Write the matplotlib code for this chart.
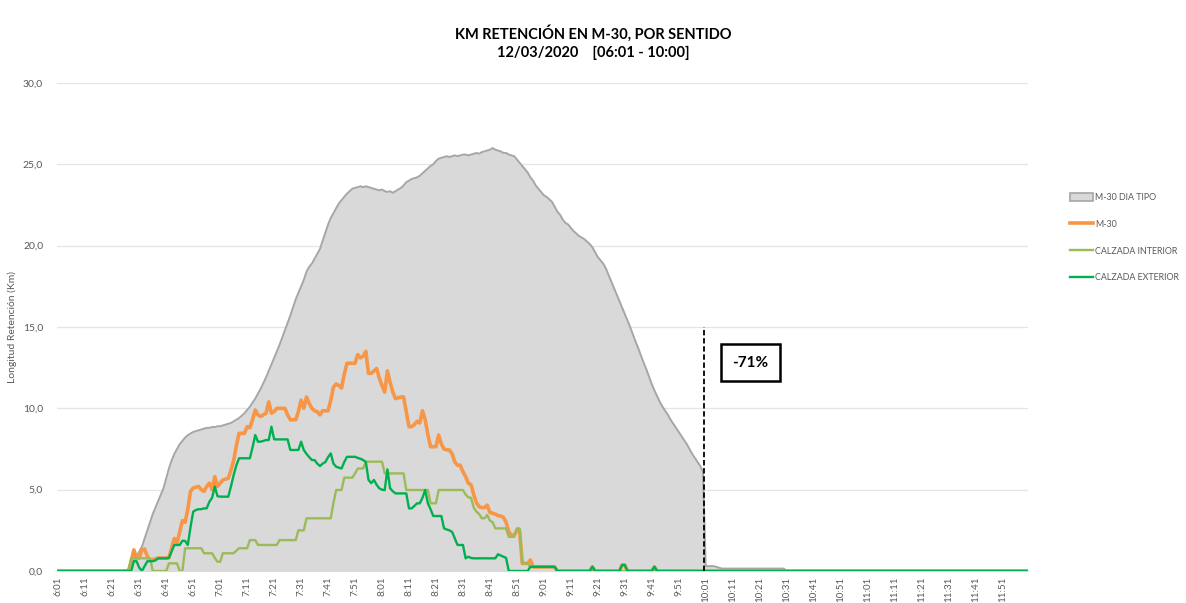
import numpy as np
import matplotlib
matplotlib.use("Agg")
import matplotlib.pyplot as plt
import matplotlib.patches as mpatches
from matplotlib.lines import Line2D

plt.rcParams["font.family"] = ["Lato", "DejaVu Sans"]

# ── Data (km of queue, one value per minute from 6:01 to 12:00) ───────────────
N_MIN = 360
START_H, START_M = 6, 1

dia_tipo = (
    [0.0] * 20
    + [0, 0, 0, 0, 0, 0.05, 0.1, 0.3, 0.6, 0.9]
    + [1.2, 1.5, 2.0, 2.5, 3.0, 3.5, 3.9, 4.3, 4.7, 5.1]
    + [5.7, 6.3, 6.8, 7.2, 7.5, 7.8, 8.0, 8.2, 8.35, 8.45]
    + [8.55, 8.6, 8.65, 8.7, 8.75, 8.8, 8.8, 8.85, 8.85, 8.9]
    + [8.9, 8.95, 9.0, 9.05, 9.1, 9.2, 9.3, 9.4, 9.55, 9.7]
    + [9.9, 10.1, 10.35, 10.6, 10.9, 11.2, 11.55, 11.9, 12.3, 12.7]
    + [13.1, 13.5, 13.9, 14.35, 14.8, 15.25, 15.7, 16.2, 16.7, 17.1]
    + [17.5, 17.9, 18.4, 18.7, 18.9, 19.2, 19.5, 19.8, 20.3, 20.8]
    + [21.3, 21.7, 22.0, 22.3, 22.6, 22.8, 23.0, 23.2, 23.35, 23.5]
    + [23.55, 23.6, 23.65, 23.6, 23.65, 23.6, 23.55, 23.5, 23.45, 23.4]
    + [23.45, 23.35, 23.3, 23.35, 23.25, 23.35, 23.45, 23.55, 23.7, 23.9]
    + [24.0, 24.1, 24.15, 24.2, 24.3, 24.45, 24.6, 24.75, 24.9, 25.0]
    + [25.2, 25.35, 25.4, 25.45, 25.5, 25.45, 25.5, 25.55, 25.5, 25.55]
    + [25.6, 25.6, 25.55, 25.6, 25.65, 25.7, 25.65, 25.75, 25.8, 25.85]
    + [25.9, 26.0, 25.9, 25.85, 25.8, 25.7, 25.7, 25.6, 25.55, 25.5]
    + [25.3, 25.1, 24.9, 24.7, 24.5, 24.2, 24.0, 23.7, 23.5, 23.3]
    + [23.1, 23.0, 22.85, 22.7, 22.4, 22.1, 21.9, 21.6, 21.4, 21.3]
    + [21.1, 20.9, 20.75, 20.6, 20.5, 20.4, 20.25, 20.1, 19.9, 19.6]
    + [19.3, 19.1, 18.9, 18.6, 18.2, 17.8, 17.4, 17.0, 16.6, 16.2]
    + [15.8, 15.4, 15.0, 14.55, 14.1, 13.7, 13.25, 12.8, 12.4, 11.95]
    + [11.5, 11.1, 10.75, 10.4, 10.1, 9.85, 9.6, 9.3, 9.05, 8.8]
    + [8.55, 8.3, 8.05, 7.8, 7.5, 7.2, 6.95, 6.7, 6.45, 6.1]
    + [0.3, 0.3, 0.3, 0.3, 0.25, 0.2, 0.15, 0.15, 0.15, 0.15]
    + [0.15] * 20
    + [0.0] * 90
)

m30 = (
    [0.0] * 20
    + [0, 0, 0, 0, 0, 0, 0, 0.6, 1.3, 0.8]
    + [0.8, 1.3, 1.35, 0.9, 0.65, 0.7, 0.75, 0.8, 0.8, 0.8]
    + [0.8, 0.82, 1.4, 2.0, 1.75, 2.4, 3.1, 3.0, 3.8, 4.9]
    + [5.1, 5.15, 5.2, 5.0, 4.9, 5.2, 5.4, 5.0, 5.8, 5.2]
    + [5.4, 5.6, 5.65, 5.7, 6.2, 6.8, 7.7, 8.46, 8.46, 8.46]
    + [8.87, 8.8, 9.3, 9.9, 9.6, 9.5, 9.6, 9.7, 10.4, 9.7]
    + [9.8, 10.0, 10.0, 10.0, 10.0, 9.6, 9.3, 9.3, 9.3, 9.8]
    + [10.5, 10.0, 10.7, 10.3, 10.0, 9.85, 9.8, 9.6, 9.85, 9.85]
    + [9.85, 10.5, 11.3, 11.5, 11.4, 11.25, 12.1, 12.77, 12.77, 12.77]
    + [12.77, 13.3, 13.1, 13.2, 13.5, 12.15, 12.15, 12.3, 12.45, 11.85]
    + [11.4, 11.0, 12.3, 11.6, 11.0, 10.6, 10.65, 10.7, 10.7, 9.8]
    + [8.87, 8.87, 9.0, 9.2, 9.1, 9.85, 9.3, 8.4, 7.64, 7.64]
    + [7.64, 8.36, 7.8, 7.5, 7.45, 7.44, 7.2, 6.7, 6.5, 6.5]
    + [6.1, 5.8, 5.4, 5.3, 4.7, 4.2, 3.95, 3.9, 3.9, 4.05]
    + [3.6, 3.55, 3.5, 3.4, 3.38, 3.3, 3.0, 2.4, 2.2, 2.2]
    + [2.5, 2.5, 0.47, 0.47, 0.47, 0.68, 0.25, 0.25, 0.25, 0.25]
    + [0.25, 0.25, 0.25, 0.25, 0.25, 0, 0, 0, 0, 0]
    + [0, 0, 0, 0, 0, 0, 0, 0, 0.26, 0]
    + [0, 0, 0, 0, 0, 0, 0, 0, 0, 0.37]
    + [0.37, 0, 0, 0, 0, 0, 0, 0, 0, 0]
    + [0, 0.26, 0, 0, 0, 0, 0, 0, 0, 0]
    + [0.0] * 130
)

interior = (
    [0.0] * 20
    + [0, 0, 0, 0, 0, 0, 0, 0.78, 0.78, 0.78]
    + [0.78, 0.78, 0.78, 0.78, 0.78, 0, 0, 0, 0, 0]
    + [0, 0.47, 0.47, 0.47, 0.47, 0, 0, 1.4, 1.4, 1.4]
    + [1.4, 1.4, 1.4, 1.4, 1.09, 1.09, 1.09, 1.09, 0.8, 0.57]
    + [0.57, 1.09, 1.09, 1.09, 1.09, 1.09, 1.25, 1.4, 1.4, 1.4]
    + [1.4, 1.9, 1.9, 1.9, 1.6, 1.6, 1.6, 1.6, 1.6, 1.6]
    + [1.6, 1.6, 1.9, 1.9, 1.9, 1.9, 1.9, 1.9, 1.9, 2.5]
    + [2.5, 2.5, 3.24, 3.24, 3.24, 3.24, 3.24, 3.24, 3.24, 3.24]
    + [3.24, 3.24, 4.2, 4.98, 4.98, 4.98, 5.74, 5.74, 5.74, 5.74]
    + [6.0, 6.3, 6.3, 6.3, 6.72, 6.72, 6.72, 6.72, 6.72, 6.72]
    + [6.72, 6.0, 6.0, 6.0, 6.0, 6.0, 6.0, 6.0, 6.0, 4.98]
    + [4.98, 4.98, 4.98, 4.98, 4.98, 4.98, 4.98, 4.98, 4.16, 4.16]
    + [4.16, 4.98, 4.98, 4.98, 4.98, 4.98, 4.98, 4.98, 4.98, 4.98]
    + [4.98, 4.7, 4.53, 4.5, 3.9, 3.65, 3.5, 3.24, 3.24, 3.44]
    + [3.1, 3.0, 2.62, 2.62, 2.62, 2.62, 2.62, 2.1, 2.1, 2.1]
    + [2.62, 2.62, 0.47, 0.47, 0.47, 0.25, 0.25, 0.25, 0.25, 0.25]
    + [0.25, 0.25, 0.25, 0.25, 0.25, 0, 0, 0, 0, 0]
    + [0.0] * 170
)

exterior = (
    [0.0] * 20
    + [0, 0, 0, 0, 0, 0, 0, 0, 0.6, 0.6]
    + [0.2, 0, 0.3, 0.6, 0.6, 0.6, 0.65, 0.78, 0.78, 0.78]
    + [0.78, 0.8, 1.2, 1.6, 1.6, 1.6, 1.86, 1.85, 1.6, 2.7]
    + [3.65, 3.75, 3.8, 3.8, 3.85, 3.85, 4.26, 4.5, 5.2, 4.6]
    + [4.57, 4.57, 4.57, 4.57, 5.2, 5.9, 6.5, 6.93, 6.93, 6.93]
    + [6.93, 6.93, 7.6, 8.36, 7.95, 7.95, 8.0, 8.05, 8.05, 8.87]
    + [8.1, 8.09, 8.09, 8.09, 8.09, 8.09, 7.44, 7.44, 7.44, 7.44]
    + [7.95, 7.44, 7.2, 7.0, 6.82, 6.82, 6.6, 6.45, 6.6, 6.7]
    + [7.0, 7.23, 6.6, 6.41, 6.35, 6.3, 6.7, 7.02, 7.02, 7.02]
    + [7.02, 6.95, 6.9, 6.82, 6.7, 5.6, 5.4, 5.6, 5.3, 5.08]
    + [5.0, 4.97, 6.25, 5.08, 4.9, 4.77, 4.77, 4.77, 4.77, 4.77]
    + [3.85, 3.85, 4.0, 4.16, 4.16, 4.5, 4.98, 4.16, 3.8, 3.38]
    + [3.38, 3.38, 3.38, 2.62, 2.55, 2.5, 2.4, 2.0, 1.6, 1.6]
    + [1.6, 0.78, 0.88, 0.8, 0.78, 0.78, 0.78, 0.78, 0.78, 0.78]
    + [0.78, 0.78, 0.78, 1.03, 0.95, 0.88, 0.8, 0, 0, 0]
    + [0, 0, 0, 0, 0, 0.26, 0.26, 0.26, 0.26, 0.26]
    + [0.26, 0.26, 0.26, 0.26, 0.26, 0, 0, 0, 0, 0]
    + [0, 0, 0, 0, 0, 0, 0, 0, 0.26, 0]
    + [0, 0, 0, 0, 0, 0, 0, 0, 0, 0.37]
    + [0.37, 0, 0, 0, 0, 0, 0, 0, 0, 0]
    + [0, 0.26, 0, 0, 0, 0, 0, 0, 0, 0]
    + [0.0] * 130
)

for s in (dia_tipo, m30, interior, exterior):
    assert len(s) == N_MIN, len(s)

time_labels = []
for i in range(N_MIN):
    tot = START_H * 60 + START_M + i
    time_labels.append(f"{tot // 60}:{tot % 60:02d}")

CUT_IDX = 239.5          # 10:00 / 10:01 boundary
CUT_TOP = 15.0
REDUCTION = "-71%"

# ── Styles ────────────────────────────────────────────────────────────────────
GRAY_FILL = "#D9D9D9"
GRAY_EDGE = "#A6A6A6"
ORANGE = "#F79646"
LIGHT_GREEN = "#9BBB59"
DARK_GREEN = "#00B050"
TXT = "#595959"

x = np.arange(N_MIN)

fig = plt.figure(figsize=(11.86, 6.03), dpi=100)
ax = fig.add_axes([57 / 1186, 1 - 571 / 603, (1028 - 57) / 1186, (571 - 83) / 603])

ax.fill_between(x, 0, dia_tipo, color=GRAY_FILL, lw=0, zorder=1)
ax.plot(x, dia_tipo, color=GRAY_EDGE, lw=1.4, zorder=2)
ax.plot(x, m30, color=ORANGE, lw=2.6, zorder=3, solid_joinstyle="round")
ax.plot(x, interior, color=LIGHT_GREEN, lw=1.7, zorder=4)
ax.plot(x, exterior, color=DARK_GREEN, lw=1.7, zorder=5)

ax.plot([CUT_IDX, CUT_IDX], [0, CUT_TOP], color="black", lw=1.3,
        ls=(0, (3, 1.5)), zorder=6)
ax.text(256.5, 12.8, REDUCTION, ha="center", va="center", fontsize=11,
        fontweight="bold", color="black", zorder=7,
        bbox=dict(boxstyle="square,pad=0.75", fc="white", ec="black", lw=1.8))

ax.set_xlim(-0.5, N_MIN - 0.5)
ax.set_ylim(0, 30)
ax.set_yticks(np.arange(0, 31, 5))
ax.set_yticklabels([f"{v:.1f}".replace(".", ",") for v in np.arange(0, 31, 5)],
                   fontsize=7.5, color=TXT)
ax.set_xticks(x[::10])
ax.set_xticklabels(time_labels[::10], rotation=90, fontsize=7, color=TXT,
                   va="top", ha="center")
ax.tick_params(axis="both", length=0)
ax.tick_params(axis="y", pad=10)
ax.tick_params(axis="x", pad=4)
ax.grid(axis="y", color="#E5E5E5", lw=0.9, zorder=0)
ax.set_axisbelow(True)
for sp in ("top", "right", "left"):
    ax.spines[sp].set_visible(False)
ax.spines["bottom"].set_color("#D9D9D9")

ax.set_ylabel("Longitud Retención (Km)", fontsize=7.5, color=TXT)
ax.yaxis.set_label_coords(-(57 - 17) / 971, 0.5)

fig.text(0.5, 1 - 33 / 603, "KM RETENCIÓN EN M-30, POR SENTIDO",
         ha="center", va="center", fontsize=10.5, fontweight="bold")
fig.text(0.5, 1 - 53 / 603, "12/03/2020    [06:01 - 10:00]",
         ha="center", va="center", fontsize=10.5, fontweight="bold")

handles = [
    mpatches.Patch(facecolor=GRAY_FILL, edgecolor=GRAY_EDGE, lw=1.2),
    Line2D([], [], color=ORANGE, lw=2.6),
    Line2D([], [], color=LIGHT_GREEN, lw=1.7),
    Line2D([], [], color=DARK_GREEN, lw=1.7),
]
labels = ["M-30 DIA TIPO", "M-30", "CALZADA INTERIOR", "CALZADA EXTERIOR"]
leg = fig.legend(handles, labels, loc="upper left",
                 bbox_to_anchor=(1062 / 1186, 1 - 185 / 603),
                 frameon=False, fontsize=6.4, labelcolor=TXT,
                 handlelength=2.6, handleheight=0.95, handletextpad=0.25,
                 labelspacing=2.0)

fig.savefig("out.png", dpi=100)
